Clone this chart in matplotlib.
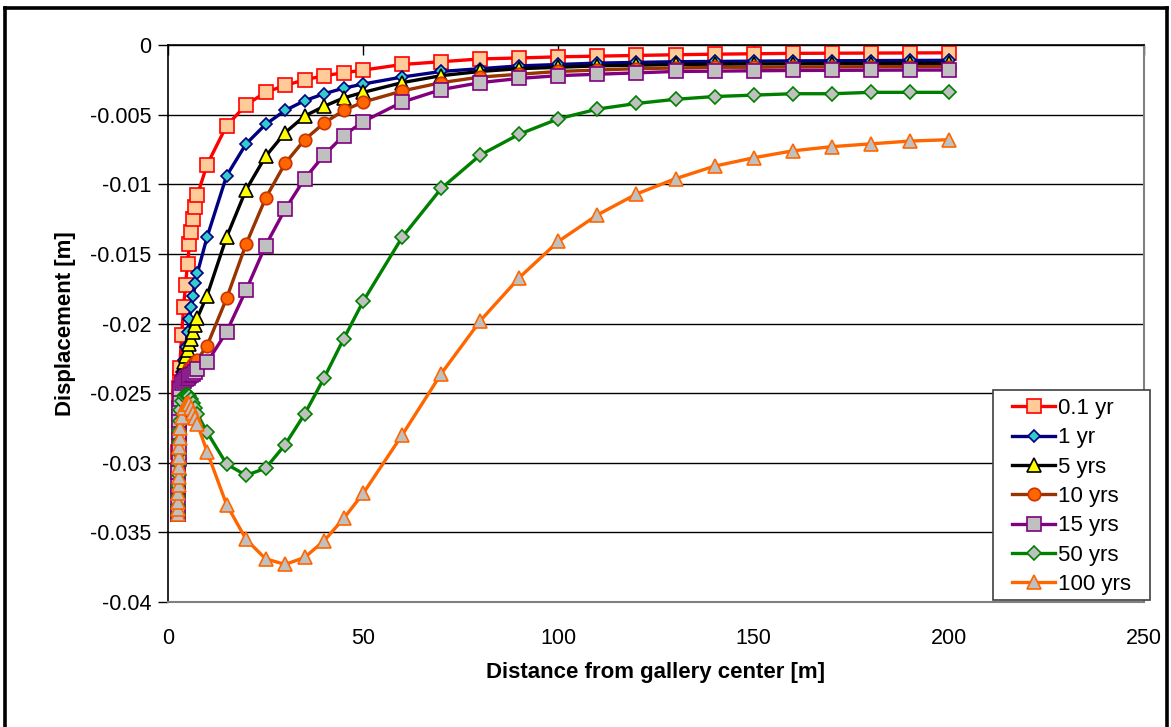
import matplotlib
matplotlib.use("Agg")
import matplotlib.pyplot as plt
from matplotlib.lines import Line2D
from matplotlib.patches import Rectangle

plt.rcParams["font.family"] = ["Liberation Sans", "DejaVu Sans"]

# Radial distance of the computed points [m]
distance = [2.5, 2.55, 2.6, 2.65, 2.7, 2.75, 2.8, 2.85, 2.9, 2.95,
            3.0, 3.5, 4.0, 4.5, 5.0, 5.5, 6.0, 6.5, 7.0, 7.5,
            10, 15, 20, 25, 30, 35, 40, 45, 50,
            60, 70, 80, 90, 100, 110, 120, 130, 140, 150, 160, 170, 180, 190, 200]

# Displacement [m] for each time step
disp_0_1yr = [-0.0337, -0.0320, -0.0305, -0.0292, -0.0280, -0.0270, -0.0261, -0.0253, -0.0246, -0.0239,
              -0.0232, -0.0208, -0.0188, -0.0172, -0.0157, -0.0143, -0.0134, -0.0125, -0.0116, -0.0108,
              -0.0086, -0.0058, -0.0043, -0.0034, -0.0029, -0.0025, -0.0022, -0.0020, -0.0018,
              -0.0014, -0.0012, -0.0010, -0.00093, -0.00085, -0.0008, -0.00075, -0.0007, -0.00066,
              -0.00063, -0.0006, -0.00059, -0.00058, -0.00057, -0.00056]
disp_1yr = [-0.0337, -0.0324, -0.0312, -0.0301, -0.0291, -0.0282, -0.0274, -0.0266, -0.0259, -0.0252,
            -0.0242, -0.0235, -0.0226, -0.0217, -0.0206, -0.0197, -0.0188, -0.0180, -0.0171, -0.0164,
            -0.0138, -0.0094, -0.0071, -0.0057, -0.0047, -0.0040, -0.0035, -0.0031, -0.0028,
            -0.0023, -0.0019, -0.0017, -0.0015, -0.0014, -0.0013, -0.00125, -0.0012, -0.00118,
            -0.00116, -0.00114, -0.00113, -0.00112, -0.00111, -0.0011]
disp_5yrs = [-0.0337, -0.0325, -0.0313, -0.0302, -0.0292, -0.0283, -0.0274, -0.0265, -0.0257, -0.0249,
             -0.0240, -0.0234, -0.0228, -0.0223, -0.0219, -0.0215, -0.0211, -0.0206, -0.0201, -0.0196,
             -0.0180, -0.0138, -0.0104, -0.0080, -0.0063, -0.0051, -0.0044, -0.0038, -0.0034,
             -0.0027, -0.0022, -0.0019, -0.0017, -0.0016, -0.0015, -0.00145, -0.0014, -0.00138,
             -0.00136, -0.00135, -0.00134, -0.00133, -0.00132, -0.00132]
disp_10yrs = [-0.0337, -0.0326, -0.0315, -0.0304, -0.0294, -0.0284, -0.0275, -0.0266, -0.0258, -0.0250,
              -0.0243, -0.0240, -0.0238, -0.0236, -0.0234, -0.0232, -0.0231, -0.0229, -0.0228, -0.0226,
              -0.0216, -0.0182, -0.0143, -0.0110, -0.0085, -0.0068, -0.0056, -0.0047, -0.0041,
              -0.0033, -0.0027, -0.0023, -0.0021, -0.0019, -0.0018, -0.0017, -0.00165, -0.0016,
              -0.0016, -0.00158, -0.00157, -0.00156, -0.00155, -0.00155]
disp_15yrs = [-0.0337, -0.0327, -0.0317, -0.0307, -0.0297, -0.0287, -0.0278, -0.0269, -0.0261, -0.0254,
              -0.0247, -0.0243, -0.0241, -0.0240, -0.0239, -0.0238, -0.0237, -0.0236, -0.0235, -0.0233,
              -0.0228, -0.0206, -0.0176, -0.0144, -0.0118, -0.0096, -0.0079, -0.0065, -0.0055,
              -0.0041, -0.0032, -0.0027, -0.0024, -0.0022, -0.0021, -0.0020, -0.0019, -0.00188,
              -0.00185, -0.00183, -0.00182, -0.00181, -0.0018, -0.0018]
disp_50yrs = [-0.0337, -0.0331, -0.0324, -0.0317, -0.0309, -0.0301, -0.0293, -0.0285, -0.0277, -0.0270,
              -0.0262, -0.0256, -0.0252, -0.0251, -0.0251, -0.0252, -0.0254, -0.0257, -0.0261, -0.0265,
              -0.0278, -0.0301, -0.0309, -0.0304, -0.0287, -0.0265, -0.0239, -0.0211, -0.0184,
              -0.0138, -0.0103, -0.0079, -0.0064, -0.0053, -0.0046, -0.0042, -0.0039, -0.0037,
              -0.0036, -0.0035, -0.0035, -0.0034, -0.0034, -0.0034]
disp_100yrs = [-0.0337, -0.0333, -0.0328, -0.0322, -0.0316, -0.0310, -0.0303, -0.0296, -0.0289, -0.0282,
               -0.0275, -0.0267, -0.0261, -0.0258, -0.0257, -0.0258, -0.0261, -0.0264, -0.0268, -0.0272,
               -0.0292, -0.0330, -0.0355, -0.0369, -0.0373, -0.0368, -0.0356, -0.0340, -0.0322,
               -0.0280, -0.0236, -0.0198, -0.0167, -0.0141, -0.0122, -0.0107, -0.0096, -0.0087,
               -0.0081, -0.0076, -0.0073, -0.0071, -0.0069, -0.0068]

series_labels = ["0.1 yr", "1 yr", "5 yrs", "10 yrs", "15 yrs", "50 yrs", "100 yrs"]

x_ticks = [0, 50, 100, 150, 200, 250]
y_ticks = [0, -0.005, -0.01, -0.015, -0.02, -0.025, -0.03, -0.035, -0.04]
y_tick_labels = ["0", "-0.005", "-0.01", "-0.015", "-0.02", "-0.025", "-0.03", "-0.035", "-0.04"]

# line colour, marker, marker face, marker edge, marker size
styles = [
    ("#FF0000", "s", "#FFCC99", "#FF0000", 9.5),
    ("#000080", "D", "#33CCCC", "#000080", 6.5),
    ("#000000", "^", "#FFFF00", "#000000", 10),
    ("#993300", "o", "#FF6600", "#CC3300", 9),
    ("#800080", "s", "#C0C0C0", "#800080", 9.5),
    ("#008000", "D", "#C0C0C0", "#008000", 7),
    ("#FF6600", "^", "#C0C0C0", "#FF6600", 10),
]
series_values = [disp_0_1yr, disp_1yr, disp_5yrs, disp_10yrs, disp_15yrs, disp_50yrs, disp_100yrs]

W, H = 1171, 727
fig = plt.figure(figsize=(W / 100, H / 100), dpi=100)
ax = fig.add_axes([168 / W, 1 - 602 / H, (1144 - 168) / W, (602 - 45) / H])

handles = []
for values, label, (lc, mk, mfc, mec, ms) in zip(series_values, series_labels, styles):
    h, = ax.plot(distance, values, color=lc, lw=2.4, marker=mk, markersize=ms,
                 markerfacecolor=mfc, markeredgecolor=mec, markeredgewidth=1.2,
                 label=label, clip_on=False)
    handles.append(h)

ax.set_xlim(0, 250)
ax.set_ylim(-0.04, 0)
ax.set_xticks(x_ticks)
ax.set_xticklabels([str(t) for t in x_ticks])
ax.set_yticks(y_ticks)
ax.set_yticklabels(y_tick_labels)

ax.yaxis.grid(True, color="black", lw=1)
ax.set_axisbelow(True)

ax.tick_params(axis="x", top=True, bottom=False, labeltop=False, labelbottom=True,
               direction="in", length=7, width=1, labelsize=15.5, pad=19)
ax.tick_params(axis="y", direction="out", length=7, width=1, labelsize=15.5, pad=5)

for side in ("top", "left"):
    ax.spines[side].set_color("black")
    ax.spines[side].set_linewidth(1.2)
for side in ("bottom", "right"):
    ax.spines[side].set_color("#808080")
    ax.spines[side].set_linewidth(1.5)

ax.set_xlabel("Distance from gallery center [m]", fontsize=16, fontweight="bold", labelpad=9)
ax.set_ylabel("Displacement [m]", fontsize=16, fontweight="bold", labelpad=10)

# legend box with its own frame, drawn over the plot area
fig.add_artist(Rectangle((993 / W, 1 - 600 / H), (1150 - 993) / W, (600 - 390) / H,
                         transform=fig.transFigure, facecolor="white",
                         edgecolor="#404040", lw=1.2, zorder=9))
leg = fig.legend(handles, series_labels, loc="upper left",
                 bbox_to_anchor=(1012 / W, 1 - 398 / H),
                 bbox_transform=fig.transFigure, fontsize=16, frameon=False,
                 handlelength=1.95, handletextpad=0.1, labelspacing=0.375,
                 borderpad=0, borderaxespad=0)
leg.set_zorder(10)

# outer chart frame
for (x0, y0, x1, y1) in [(5, 8, 5, H + 5), (5, 8, 1167, 8), (1167, 8, 1167, H + 5)]:
    fig.add_artist(Line2D([x0 / W, x1 / W], [1 - y0 / H, 1 - y1 / H],
                          transform=fig.transFigure, color="black", lw=2.6))

fig.savefig("out.png", dpi=100)
